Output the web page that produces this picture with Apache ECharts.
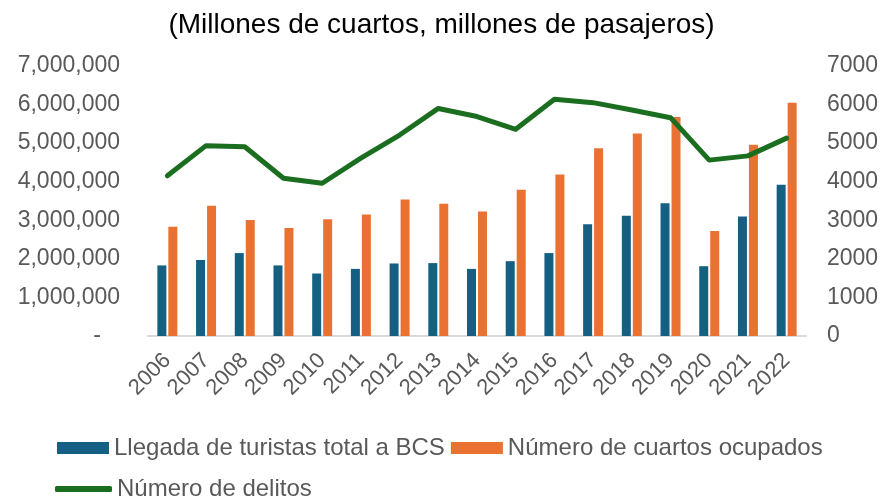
<!DOCTYPE html>
<html lang="es">
<head>
    <meta charset="UTF-8">
    <title>Turismo y delitos BCS</title>
    <script src="https://cdn.jsdelivr.net/npm/echarts@6/dist/echarts.min.js"></script>
    <style>
        body { margin: 0; background: #fff; }
        #main { width: 883px; height: 499px; }
    </style>
</head>
<body>
<div id="main"></div>
<script>
    // datos
    var years = ['2006', '2007', '2008', '2009', '2010', '2011', '2012', '2013', '2014',
        '2015', '2016', '2017', '2018', '2019', '2020', '2021', '2022'];
    var turistas = [1830000, 1970000, 2150000, 1830000, 1620000, 1740000, 1880000, 1890000, 1740000,
        1940000, 2150000, 2900000, 3120000, 3440000, 1810000, 3100000, 3920000];
    var cuartos = [2830000, 3380000, 3010000, 2800000, 3030000, 3150000, 3540000, 3430000, 3230000,
        3790000, 4190000, 4870000, 5250000, 5680000, 2720000, 4960000, 6050000];
    var delitos = [4155, 4935, 4905, 4090, 3960, 4610, 5210, 5900, 5690,
        5360, 6140, 6050, 5860, 5660, 4560, 4670, 5130];

    var myChart = echarts.init(document.getElementById('main'));

    var option = {
        animation: false,
        textStyle: { fontFamily: 'Liberation Sans, Arial, sans-serif' },
        title: {
            text: '(Millones de cuartos, millones de pasajeros)',
            left: 'center',
            top: 6,
            textStyle: { fontSize: 28, fontWeight: 'normal', color: '#000' }
        },
        legend: [
            {
                left: 57,
                top: 436,
                padding: 0,
                itemWidth: 52,
                itemHeight: 12,
                itemGap: 6,
                icon: 'rect',
                textStyle: { fontSize: 24, color: '#595959' },
                data: ['Llegada de turistas total a BCS', 'Número de cuartos ocupados']
            },
            {
                left: 55,
                top: 477,
                padding: 0,
                itemWidth: 57,
                itemHeight: 6,
                icon: 'roundRect',
                textStyle: { fontSize: 24, color: '#595959' },
                data: ['Número de delitos']
            }
        ],
        grid: {
            left: 148,
            right: 77,
            top: 66,
            bottom: 163
        },
        xAxis: {
            type: 'category',
            data: years,
            axisLine: { lineStyle: { color: '#d9d9d9', width: 2 } },
            axisTick: { show: false },
            axisLabel: {
                interval: 0,
                rotate: 45,
                margin: 21,
                fontSize: 22,
                color: '#595959'
            }
        },
        yAxis: [
            {
                type: 'value',
                min: 0,
                max: 7000000,
                interval: 1000000,
                splitLine: { show: false },
                axisLine: { show: false },
                axisTick: { show: false },
                axisLabel: {
                    margin: 28,
                    fontSize: 23,
                    color: '#595959',
                    formatter: function (v) {
                        if (v === 0) return '-   ';
                        return v.toString().replace(/\B(?=(\d{3})+(?!\d))/g, ',');
                    }
                }
            },
            {
                type: 'value',
                min: 0,
                max: 7000,
                interval: 1000,
                splitLine: { show: false },
                axisLine: { show: false },
                axisTick: { show: false },
                axisLabel: {
                    margin: 21,
                    fontSize: 23,
                    color: '#595959',
                    formatter: function (v) { return String(v); }
                }
            }
        ],
        series: [
            {
                name: 'Llegada de turistas total a BCS',
                type: 'bar',
                barWidth: 9,
                barGap: '22%',
                itemStyle: { color: '#156082' },
                data: turistas
            },
            {
                name: 'Número de cuartos ocupados',
                type: 'bar',
                barWidth: 9,
                itemStyle: { color: '#e97132' },
                data: cuartos
            },
            {
                name: 'Número de delitos',
                type: 'line',
                yAxisIndex: 1,
                symbol: 'none',
                lineStyle: { color: '#1b6e20', width: 5, cap: 'round', join: 'round' },
                itemStyle: { color: '#1b6e20' },
                data: delitos
            }
        ]
    };

    myChart.setOption(option);
</script>
</body>
</html>
